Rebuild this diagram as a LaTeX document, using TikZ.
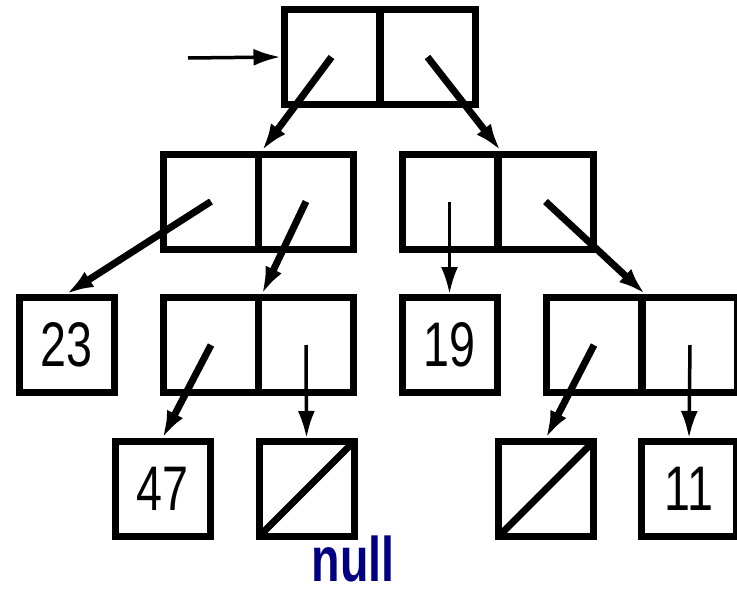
\documentclass[tikz,border=0pt]{standalone}
\usepackage{fontspec}
\newfontfamily\cellfont[FakeStretch=0.74]{Liberation Sans}
\usetikzlibrary{arrows.meta}
\definecolor{nullblue}{RGB}{0,0,128}
\tikzset{
  cell/.style={draw,line width=7pt,minimum size=95pt,inner sep=0pt,
    font=\cellfont\fontsize{63}{63}\selectfont},
  nilcell/.style={cell,path picture={\draw[line width=7pt]
    (path picture bounding box.south west) -- (path picture bounding box.north east);}},
  ptr/.style={-{Latex[length=27pt,width=18pt]},line width=7pt},
  thinptr/.style={-{Latex[length=27pt,width=17pt]},line width=3.5pt}
}
\begin{document}
\begin{tikzpicture}[x=1pt,y=-1pt]
\useasboundingbox (0,0) rectangle (737,589);
% cons cells, row by row
\node[cell] (T1) at (331.5,57) {};
\node[cell] (T2) at (427.5,57) {};
\node[cell] (A1) at (211,201.5) {};
\node[cell] (A2) at (306,201.5) {};
\node[cell] (B1) at (449.5,201.5) {};
\node[cell] (B2) at (545.5,201.5) {};
\node[cell] (n23) at (66.5,345) {23};
\node[cell] (C1) at (211,345) {};
\node[cell] (C2) at (306,345) {};
\node[cell] (n19) at (449.5,345) {19};
\node[cell] (D1) at (594,345) {};
\node[cell] (D2) at (690,345) {};
\node[cell] (n47) at (162.5,489) {47};
\node[nilcell] (nil1) at (306.5,489) {};
\node[nilcell] (nil2) at (546,489) {};
\node[cell] (n11) at (689,489) {11};
\node[inner sep=0pt,font=\cellfont\bfseries\fontsize{63}{63}\selectfont,text=nullblue]
  (nulltext) at (353,559) {null};
% pointers
\coordinate (entry) at (188,58);
\path[thinptr,draw] (entry) -- (T1.west);
\path[ptr,draw] (T1.center) -- (A1.north east);
\path[ptr,draw] (T2.center) -- (B1.north east);
\path[ptr,draw] (A1.center) -- (n23.north);
\path[ptr,draw] (A2.center) -- (C1.north east);
\path[thinptr,draw] (B1.center) -- (n19.north);
\path[ptr,draw] (B2.center) -- (D1.north east);
\path[ptr,draw] (C1.center) -- (n47.north);
\path[thinptr,draw] (C2.center) -- (nil1.north);
\path[ptr,draw] (D1.center) -- (nil2.north);
\path[thinptr,draw] (D2.center) -- (n11.north);
\end{tikzpicture}
\end{document}
